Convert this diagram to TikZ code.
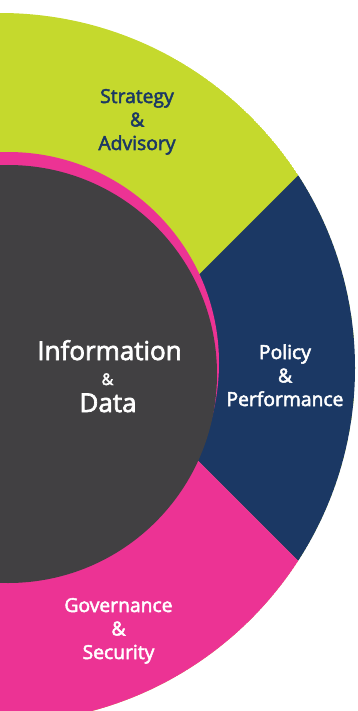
\documentclass[tikz,border=0pt]{standalone}
\usepackage{fontspec}
\setmainfont{Open Sans}
\newfontfamily\medfont[FakeBold=2.6]{Open Sans}
\definecolor{lime}{RGB}{197,217,45}
\definecolor{navy}{RGB}{27,56,100}
\definecolor{hotpink}{RGB}{236,51,148}
\definecolor{charcoal}{RGB}{65,64,66}
\tikzset{
  lbl/.style={inner sep=0pt, align=center, anchor=base, font=\medfont\fontsize{19.3}{23.5}\selectfont},
  biglbl/.style={inner sep=0pt, anchor=base, font=\medfont\fontsize{26}{30}\selectfont, text=white},
  amp/.style={inner sep=0pt, anchor=base, font=\medfont\fontsize{16}{18}\selectfont, text=white}
}
\begin{document}
\begin{tikzpicture}[x=1pt,y=-1pt]
\useasboundingbox (0,0) rectangle (358,711);
\clip (0,0) rectangle (358,711);
\begin{scope}
  \clip (0,368) circle (355pt);
  \fill[lime] (0,368) circle (355pt);
  \fill[navy] (105.5,368) -- (505.5,-32) -- (505.5,768) -- cycle;
  \fill[hotpink] (105.5,368) -- (505.5,768) -- (-10,768) -- (-10,368) -- cycle;
\end{scope}
\fill[hotpink] (8,363) circle (211pt);
\fill[charcoal] (8,374) circle (209pt);
\node[lbl, text=navy] (strat) at (137,150) {Strategy\\\&\\Advisory};
\node[lbl, text=white] (policy) at (285,406) {Policy\\\&\\Performance};
\node[lbl, text=white] (gov) at (118.5,659) {Governance\\\&\\Security};
\node[biglbl] (info) at (109.5,360) {Information};
\node[amp] (infoamp) at (107.5,385) {\&};
\node[biglbl] (data) at (108,412) {Data};
\end{tikzpicture}
\end{document}
